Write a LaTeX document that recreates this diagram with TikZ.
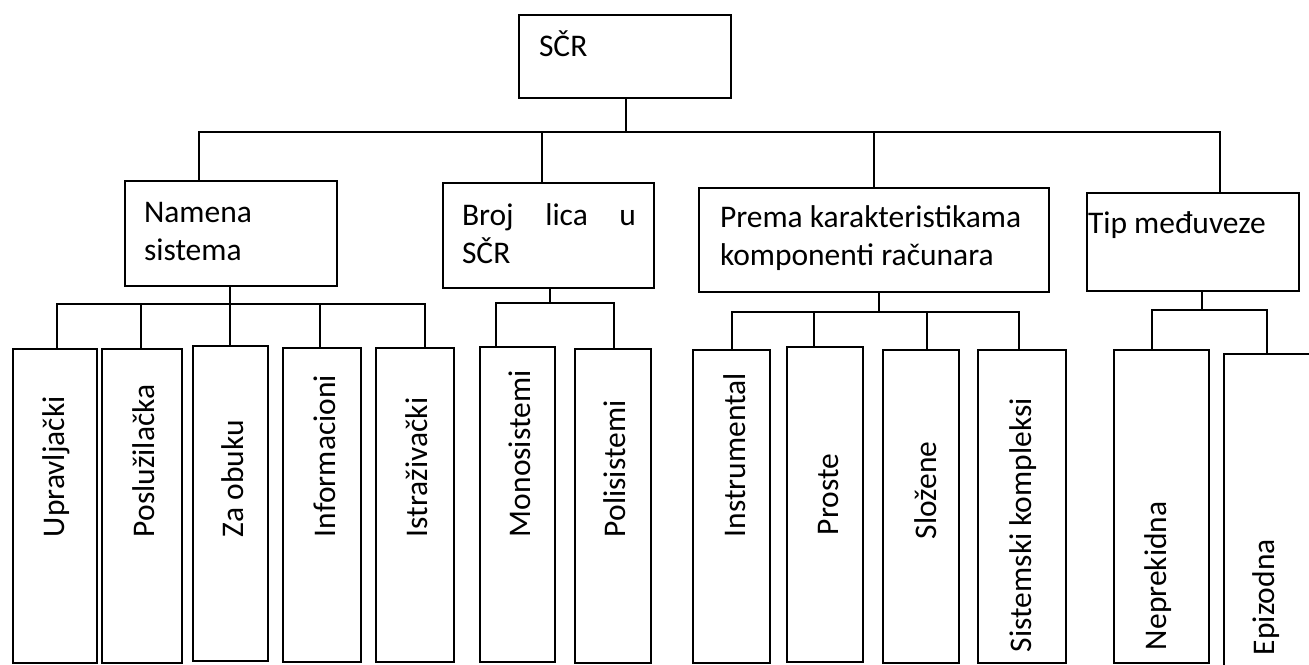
\documentclass[tikz,border=0pt]{standalone}
\usepackage{fontspec}
\setmainfont{Carlito}
\begin{document}
\begin{tikzpicture}[x=1pt,y=-1pt,
  box/.style={draw, line width=2pt, inner sep=0pt, outer sep=0pt, rectangle, anchor=north west},
  txt/.style={inner sep=0pt, outer sep=0pt, anchor=base west, font=\fontsize{31.5}{38.5}\selectfont},
  vtxt/.style={txt, rotate=90},
  conn/.style={line width=2pt, line cap=rect}]

\useasboundingbox (0,0) rectangle (1309,664);

% level 0 and 1 boxes
\node[box, minimum width=212pt, minimum height=83pt]  (root)   at (519,15)  {};
\node[box, minimum width=212pt, minimum height=105pt] (namena) at (125,181) {};
\node[box, minimum width=211pt, minimum height=105pt] (broj)   at (443,183) {};
\node[box, minimum width=350pt, minimum height=104pt] (prema)  at (699,188) {};
\node[box, minimum width=212pt, minimum height=98pt]  (tip)    at (1087,193) {};

% leaf boxes
\node[box, minimum width=84pt, minimum height=314pt] (upr) at (13,349)  {};
\node[box, minimum width=80pt, minimum height=314pt] (pos) at (102,349) {};
\node[box, minimum width=75pt, minimum height=315pt] (zao) at (193,346) {};
\node[box, minimum width=78pt, minimum height=314pt] (inf) at (283,348) {};
\node[box, minimum width=78pt, minimum height=314pt] (ist) at (376,348) {};
\node[box, minimum width=75pt, minimum height=315pt] (mon) at (480,347) {};
\node[box, minimum width=76pt, minimum height=314pt] (pol) at (575,349) {};
\node[box, minimum width=77pt, minimum height=313pt] (ins) at (693,350) {};
\node[box, minimum width=76pt, minimum height=315pt] (pro) at (787,347) {};
\node[box, minimum width=76pt, minimum height=313pt] (slo) at (883,350) {};
\node[box, minimum width=88pt, minimum height=313pt] (sis) at (978,350) {};
\node[box, minimum width=95pt, minimum height=313pt] (nep) at (1114,350) {};
\begin{scope}
  \clip (0,0) rectangle (1309,664);
  \node[box, minimum width=96pt, minimum height=320pt] (epi) at (1224,354) {};
\end{scope}

% texts in upper boxes
\node[txt] (rootT) at (539,56)  {SČR};
\node[txt] (namT1) at (144,222) {Namena};
\node[txt] (namT2) at (144,260) {sistema};
\node[txt] (broT1) at (462,225) {\makebox[174pt][l]{Broj\hfill lica\hfill u}};
\node[txt] (broT2) at (462,263) {SČR};
\node[txt] (preT1) at (720,227) {Prema karakteristikama};
\node[txt] (preT2) at (720,265) {komponenti računara};
\node[txt] (tipT)  at (1088,233) {Tip međuveze};

% rotated texts in leaf boxes
\node[vtxt] (uprT) at (64,537)   {Upravljački};
\node[vtxt] (posT) at (154,537)  {Posluž{}ilačka};
\node[vtxt] (zaoT) at (243,537)  {Za obuku};
\node[vtxt] (infT) at (335,537)  {Informacioni};
\node[vtxt] (istT) at (427,537)  {Istraživački};
\node[vtxt] (monT) at (530,537)  {Monosistemi};
\node[vtxt] (polT) at (625,537)  {Polisistemi};
\node[vtxt] (insT) at (745,537)  {Instrumental};
\node[vtxt] (proT) at (838,535)  {Proste};
\node[vtxt] (sloT) at (936,539)  {Složene};
\node[vtxt] (sisT) at (1031,652) {Sistemski kompleksi};
\node[vtxt] (nepT) at (1166,650) {Neprekidna};
\node[vtxt] (epiT) at (1274,655) {Epizodna};

% connectors level 0 -> 1
\coordinate (j0)  at (626,132);
\coordinate (b0l) at (199,132);
\coordinate (b0r) at (1220,132);
\coordinate (d0b) at (542,132);
\coordinate (d0p) at (874,132);
\draw[conn] (root.south -| j0) -- (j0);
\draw[conn] (b0l) -- (b0r);
\draw[conn] (b0l) -- (b0l |- namena.north);
\draw[conn] (d0b) -- (d0b |- broj.north);
\draw[conn] (d0p) -- (d0p |- prema.north);
\draw[conn] (b0r) -- (b0r |- tip.north);

% Namena sistema
\coordinate (j1)  at (230,304);
\coordinate (b1l) at (57,304);
\coordinate (b1r) at (425,304);
\coordinate (d1p) at (141,304);
\coordinate (d1i) at (320,304);
\draw[conn] (namena.south -| j1) -- (j1);
\draw[conn] (b1l) -- (b1r);
\draw[conn] (b1l) -- (b1l |- upr.north);
\draw[conn] (d1p) -- (d1p |- pos.north);
\draw[conn] (j1)  -- (j1 |- zao.north);
\draw[conn] (d1i) -- (d1i |- inf.north);
\draw[conn] (b1r) -- (b1r |- ist.north);

% Broj lica u SCR
\coordinate (j2)  at (550,303);
\coordinate (b2l) at (496,303);
\coordinate (b2r) at (614,303);
\draw[conn] (broj.south -| j2) -- (j2);
\draw[conn] (b2l) -- (b2r);
\draw[conn] (b2l) -- (b2l |- mon.north);
\draw[conn] (b2r) -- (b2r |- pol.north);

% Prema karakteristikama
\coordinate (j3)  at (879,312);
\coordinate (b3l) at (732,312);
\coordinate (b3r) at (1019,312);
\coordinate (d3p) at (814,312);
\coordinate (d3s) at (927,312);
\draw[conn] (prema.south -| j3) -- (j3);
\draw[conn] (b3l) -- (b3r);
\draw[conn] (b3l) -- (b3l |- ins.north);
\draw[conn] (d3p) -- (d3p |- pro.north);
\draw[conn] (d3s) -- (d3s |- slo.north);
\draw[conn] (b3r) -- (b3r |- sis.north);

% Tip meduveze
\coordinate (j4)  at (1202,310);
\coordinate (b4l) at (1152,310);
\coordinate (b4r) at (1267,310);
\draw[conn] (tip.south -| j4) -- (j4);
\draw[conn] (b4l) -- (b4r);
\draw[conn] (b4l) -- (b4l |- nep.north);
\draw[conn] (b4r) -- (b4r |- epi.north);
\end{tikzpicture}
\end{document}
